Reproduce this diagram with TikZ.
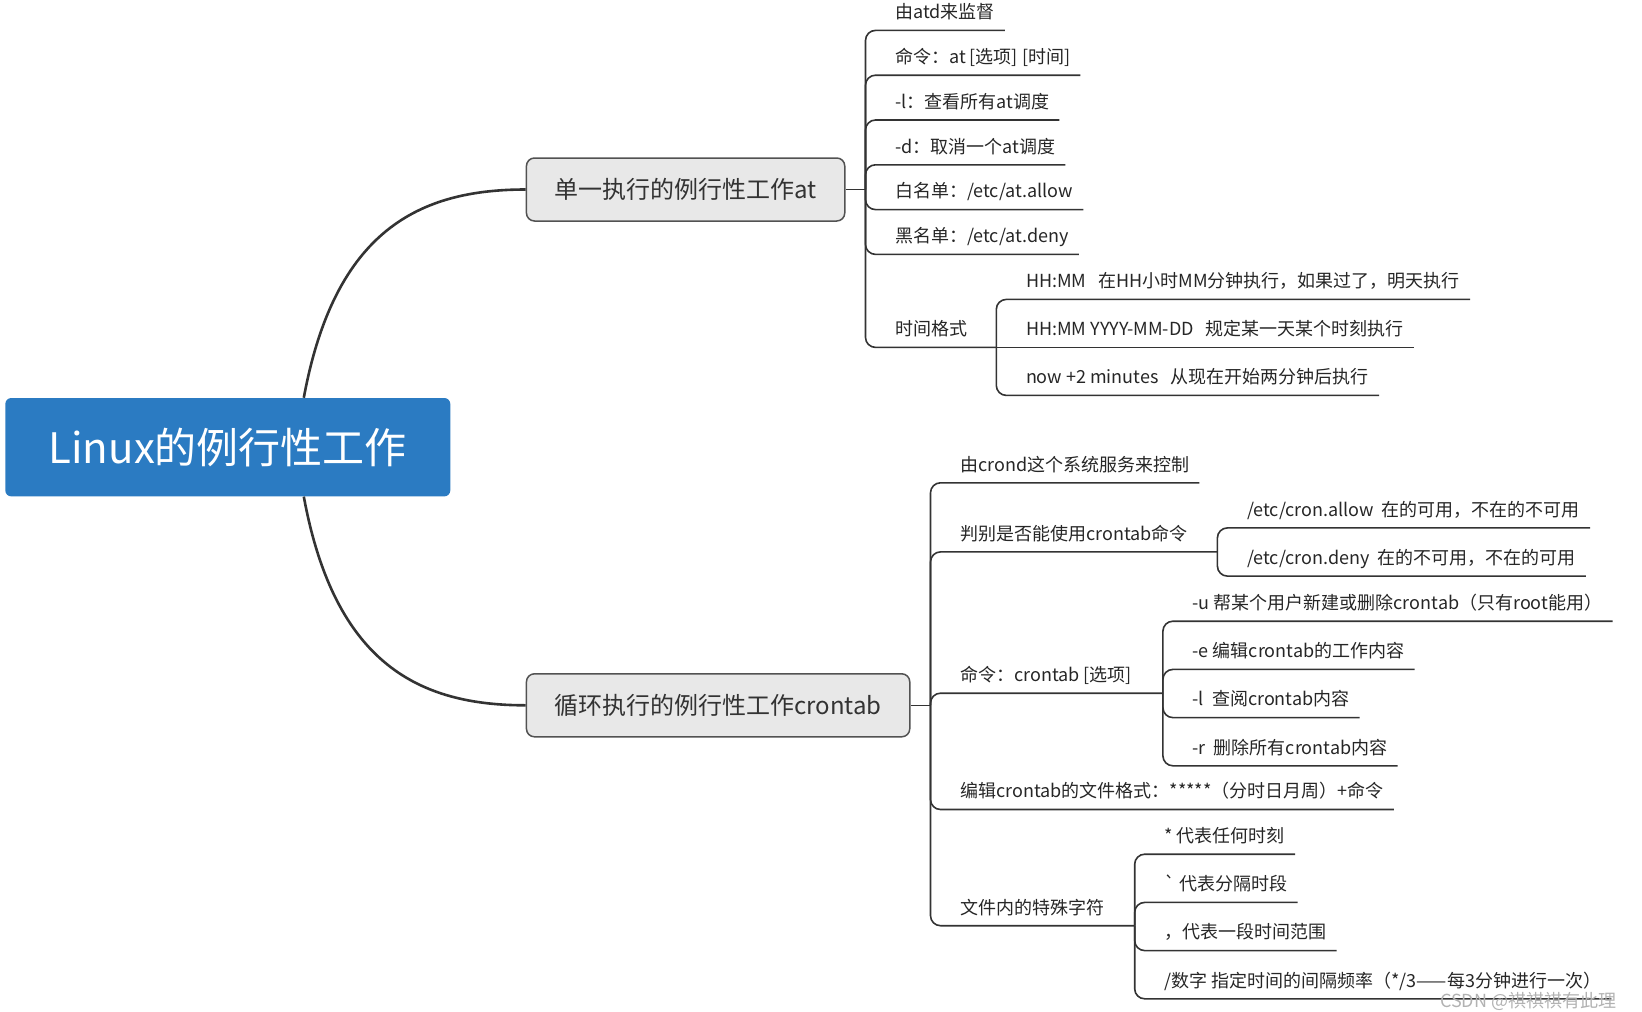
\documentclass[tikz,border=0pt]{standalone}
\usepackage{fontspec}
\setmainfont{Noto Sans CJK SC}
\usetikzlibrary{positioning, calc}
\definecolor{rootblue}{RGB}{43,123,194}

\begin{document}
\begin{tikzpicture}[
    x=1pt, y=-1pt,
    root/.style={rectangle, rounded corners=6pt, fill=rootblue, text=white, minimum width=445pt, minimum height=98.4pt, inner sep=0pt, font=\fontsize{42}{50}\selectfont},
    branch/.style={rectangle, rounded corners=8pt, draw=black!68, fill=black!9, line width=1.5pt, minimum height=63pt, inner sep=0pt, text=black!80, font=\fontsize{24}{29}\selectfont},
    leaf/.style={anchor=south west, inner xsep=0pt, inner ysep=11.5pt, text height=14pt, text depth=0pt, text=black!85, font=\fontsize{18}{22}\selectfont, execute at begin node={\hspace*{29.5pt}}, execute at end node={\hspace*{10pt}}},
    link/.style={draw=black!80, line width=1.6pt, rounded corners=10pt},
    curve/.style={draw=black!80, line width=2.6pt},
    watermark/.style={text=black!30, font=\fontsize{18}{22}\selectfont, inner sep=0pt}
  ]
  \useasboundingbox (0,0) rectangle (1642,1012);

  \node[root] (root) at (227.8,447.2) {Linux的例行性工作};
  \node[branch, minimum width=318.3pt, anchor=west] (at) at (525.7,189.5) {单一执行的例行性工作at};
  \node[branch, minimum width=383.3pt, anchor=west] (cron) at (525.7,705.3) {循环执行的例行性工作crontab};

  \draw[curve] ([xshift=76pt]root.north) .. controls +(31,-168) and +(-106,0) .. (at.west);
  \draw[curve] ([xshift=76pt]root.south) .. controls +(31,168) and +(-106,0) .. (cron.west);

  \coordinate[right=20pt of at] (atj);
  \node[above=159.1pt of atj, leaf] (a1) {由atd来监督};
  \node[below=44.8pt of a1.south west, leaf] (a2) {命令：at [选项] [时间]};
  \node[below=44.8pt of a2.south west, leaf] (a3) {-l：查看所有at调度};
  \node[below=44.8pt of a3.south west, leaf] (a4) {-d：取消一个at调度};
  \node[below=44.8pt of a4.south west, leaf] (a5) {白名单：/etc/at.allow};
  \node[below=44.8pt of a5.south west, leaf] (a6) {黑名单：/etc/at.deny};
  \node[below=93pt of a6.south west, leaf] (a7) {时间格式};
  \coordinate[right=130.8pt of a7.south west] (tj);
  \node[above=48pt of tj, leaf] (t1) {HH:MM\ \ \ 在HH小时MM分钟执行，如果过了，明天执行};
  \node[below=48pt of t1.south west, leaf] (t2) {HH:MM YYYY-MM-DD\ \ \ 规定某一天某个时刻执行};
  \node[below=48pt of t2.south west, leaf] (t3) {now +2 minutes\ \ \ 从现在开始两分钟后执行};

  \draw[link] (at) -- (atj);
  \foreach \c in {a1,a2,a3,a4,a5,a6}
    \draw[link] (atj) |- (\c.south east);
  \draw[link] (atj) |- (tj);
  \draw[link] (tj) |- (t1.south east);
  \draw[link] (tj) -- (t2.south east);
  \draw[link] (tj) |- (t3.south east);

  \coordinate[right=20pt of cron] (crj);
  \node[above=222.5pt of crj, leaf] (c1) {由crond这个系统服务来控制};
  \node[below=69.1pt of c1.south west, leaf] (c2) {判别是否能使用crontab命令};
  \node[below=141.3pt of c2.south west, leaf] (c3) {命令：crontab [选项]};
  \node[below=116.3pt of c3.south west, leaf] (c4) {编辑crontab的文件格式：*****（分时日月周）+命令};
  \node[below=116.2pt of c4.south west, leaf] (c5) {文件内的特殊字符};

  \coordinate[right=286.9pt of c2.south west] (pj);
  \node[above=24pt of pj, leaf] (p1) {/etc/cron.allow\ \ 在的可用，不在的不可用};
  \node[below=48.2pt of p1.south west, leaf] (p2) {/etc/cron.deny\ \ 在的不可用，不在的可用};

  \coordinate[right=232.4pt of c3.south west] (mj);
  \node[above=72pt of mj, leaf] (m1) {-u 帮某个用户新建或删除crontab（只有root能用）};
  \node[below=48.2pt of m1.south west, leaf] (m2) {-e 编辑crontab的工作内容};
  \node[below=48.2pt of m2.south west, leaf] (m3) {-l\ \ 查阅crontab内容};
  \node[below=48.2pt of m3.south west, leaf] (m4) {-r\ \ 删除所有crontab内容};

  \coordinate[right=204.2pt of c5.south west] (fj);
  \node[above=71.5pt of fj, leaf] (f1) {* 代表任何时刻};
  \node[below=48.2pt of f1.south west, leaf] (f2) {\textasciigrave\ 代表分隔时段};
  \node[below=48.2pt of f2.south west, leaf] (f3) {，代表一段时间范围};
  \node[below=48.2pt of f3.south west, leaf] (f4) {/数字 指定时间的间隔频率（*/3——每3分钟进行一次）};

  \draw[link] (cron) -- (crj);
  \foreach \c in {c1,c4}
    \draw[link] (crj) |- (\c.south east);
  \draw[link] (crj) |- (pj);
  \draw[link] (crj) |- (mj);
  \draw[link] (crj) |- (fj);
  \foreach \c in {p1,p2}
    \draw[link] (pj) |- (\c.south east);
  \foreach \c in {m1,m2,m3,m4}
    \draw[link] (mj) |- (\c.south east);
  \foreach \c in {f1,f2,f3,f4}
    \draw[link] (fj) |- (\c.south east);

  \node[watermark, anchor=west] (wm) at (1440,1001) {CSDN @祺祺祺有此理};
\end{tikzpicture}
\end{document}
